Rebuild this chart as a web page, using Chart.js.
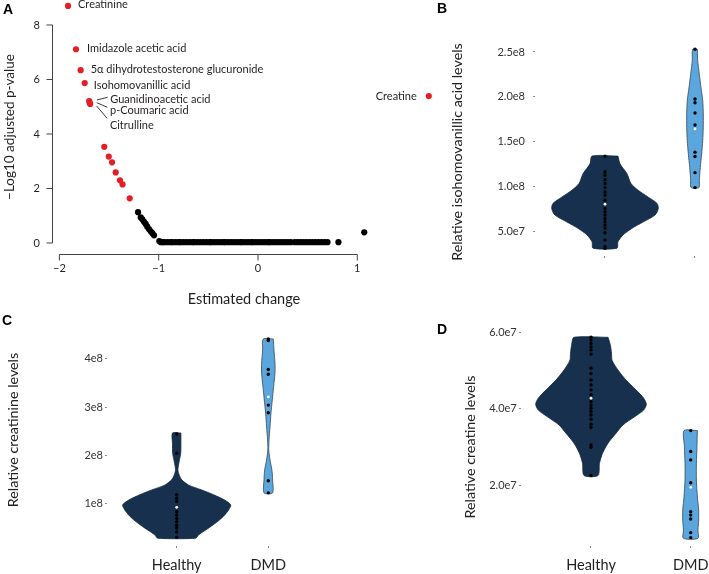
<!DOCTYPE html>
<html><head><meta charset="utf-8">
<script src="https://cdn.jsdelivr.net/npm/chart.js@4.4.0/dist/chart.umd.min.js"></script>
<style>
html,body{margin:0;padding:0;background:#fff}
body{width:709px;height:574px;overflow:hidden;position:relative;font-family:Lato,sans-serif}
canvas{position:absolute}
.lt{position:absolute;font:bold 14px "Liberation Sans",Arial,sans-serif;color:#000;line-height:14px}
</style></head><body>
<canvas id="cA" width="440" height="312" style="left:0;top:0"></canvas>
<canvas id="cB" width="269" height="300" style="left:440px;top:0"></canvas>
<canvas id="cC" width="350" height="262" style="left:0;top:312px"></canvas>
<canvas id="cD" width="269" height="262" style="left:440px;top:312px"></canvas>
<div class="lt" style="left:3px;top:2px">A</div>
<div class="lt" style="left:437px;top:1px">B</div>
<div class="lt" style="left:2px;top:313px">C</div>
<div class="lt" style="left:437px;top:322px">D</div>
<script>
// ---------- Panel A data ----------
const sigX = [-1.913,-1.833,-1.786,-1.745,-1.700,-1.695,-1.690,1.720,-1.548,-1.503,-1.470,-1.433,-1.390,-1.364,-1.292];
const sigY = [8.70,7.11,6.34,5.87,5.21,5.15,5.10,5.39,3.53,3.17,2.96,2.59,2.30,2.15,1.64];
const sigNames = ["Creatinine","Imidazole acetic acid","5\u03b1 dihydrotestosterone glucuronide","Isohomovanillic acid","Guanidinoacetic acid","p-Coumaric acid","Citrulline","Creatine"];
const nsX = [-1.208,-1.181,-1.165,-1.148,-1.131,-1.115,-1.098,-1.081,-1.064,-1.047,-0.994,
  -0.98,-0.96,-0.94,-0.91,-0.88,-0.86,-0.83,-0.80,-0.78,-0.75,-0.72,-0.69,-0.66,-0.64,-0.61,-0.58,-0.55,-0.52,-0.49,-0.47,
  -0.44,-0.41,-0.38,-0.35,-0.33,-0.30,-0.27,-0.24,-0.21,-0.18,-0.16,-0.13,-0.10,-0.07,-0.05,-0.02,0.01,0.04,0.07,0.10,
  0.12,0.15,0.18,0.21,0.24,0.27,0.30,0.33,0.37,0.40,0.43,0.46,0.49,0.52,0.55,0.58,0.61,0.64,0.67,0.70,0.81,1.07];
const nsY = [1.13,0.94,0.87,0.78,0.70,0.60,0.51,0.43,0.36,0.28,0.07,
  0.03,0.03,0.03,0.03,0.03,0.03,0.03,0.03,0.03,0.03,0.03,0.03,0.03,0.03,0.03,0.03,0.03,0.03,0.03,0.03,
  0.03,0.03,0.03,0.03,0.03,0.03,0.03,0.03,0.03,0.03,0.03,0.03,0.03,0.03,0.03,0.03,0.03,0.03,0.03,0.03,
  0.03,0.03,0.03,0.03,0.03,0.03,0.03,0.03,0.03,0.03,0.03,0.03,0.03,0.03,0.03,0.03,0.03,0.03,0.03,0.03,0.03,0.39];
const aXTicks = [-2,-1,0,1];
const aYTicks = [0,2,4,6,8];

// ---------- Panel B data (isohomovanillic acid) ----------
const bHealthyPts = [133.7e6,115.9e6,112.2e6,107.4e6,103e6,98.5e6,93.7e6,90e6,84.4e6,75.2e6,71.5e6,67.8e6,64e6,60.4e6,56.7e6,53e6,48.1e6,40e6,32.6e6,30.7e6];
const bHealthyMedian = 80e6;
const bDmdPts = [253e6,197.4e6,193.3e6,181.9e6,168.5e6,138.1e6,133.3e6,115.2e6,98.5e6];
const bDmdMedian = 164e6;
const bHealthyDensAt = [133.7e6,125e6,114e6,103e6,95.6e6,88e6,80.8e6,75e6,67.8e6,60e6,53e6,45.6e6,38e6,30.8e6];
const bHealthyDensW  = [0.144,0.167,0.244,0.289,0.367,0.478,0.578,0.592,0.556,0.422,0.300,0.200,0.144,0.133];
const bDmdDensAt = [253e6,240.7e6,225e6,210e6,195.6e6,180.7e6,166e6,151e6,136e6,121e6,106.7e6,98.5e6];
const bDmdDensW  = [0.026,0.030,0.048,0.067,0.086,0.092,0.092,0.086,0.074,0.059,0.048,0.044];
const bTickVals = [5e7,1e8,1.5e8,2e8,2.5e8];
const bTickLabels = ["5.0e7","1.0e8","1.5e0","2.0e8","2.5e8"];

// ---------- Panel C data (creatinine) ----------
const cHealthyPts = [2.44e8,2.04e8,1.18e8,1.11e8,1.04e8,0.83e8,0.76e8,0.69e8,0.62e8,0.55e8,0.49e8,0.41e8,0.30e8];
const cHealthyMedian = 0.92e8;
const cDmdPts = [4.41e8,4.38e8,3.78e8,3.68e8,3.04e8,2.88e8,1.47e8,1.22e8];
const cDmdMedian = 3.21e8;
const cHealthyDensAt = [2.46e8,2.25e8,2.04e8,1.87e8,1.70e8,1.59e8,1.49e8,1.38e8,1.28e8,1.18e8,1.07e8,0.97e8,0.87e8,0.76e8,0.66e8,0.55e8,0.45e8,0.35e8,0.28e8];
const cHealthyDensW  = [0.046,0.046,0.044,0.027,0.013,0.027,0.055,0.131,0.273,0.404,0.524,0.590,0.568,0.524,0.469,0.393,0.317,0.240,0.207];
const cDmdDensAt = [4.41e8,4.18e8,3.91e8,3.70e8,3.42e8,3.15e8,2.87e8,2.59e8,2.32e8,2.11e8,1.90e8,1.69e8,1.49e8,1.22e8];
const cDmdDensW  = [0.055,0.062,0.073,0.073,0.058,0.044,0.029,0.019,0.008,0.005,0.019,0.040,0.047,0.047];
const cTickVals = [1e8,2e8,3e8,4e8];
const cTickLabels = ["1e8","2e8","3e8","4e8"];

// ---------- Panel D data (creatine) ----------
const dHealthyPts = [58.8e6,58.1e6,57.2e6,56.3e6,55.5e6,54.4e6,50.7e6,49.3e6,47.6e6,46.3e6,45e6,43.7e6,41.9e6,41e6,40.2e6,39.3e6,38.4e6,37.3e6,36e6,35.1e6,30.5e6,29.9e6,22.5e6];
const dHealthyMedian = 42.8e6;
const dDmdPts = [34.3e6,28.8e6,26.6e6,20.6e6,13e6,12.1e6,11.1e6,7.5e6,6.2e6];
const dDmdMedian = 19.4e6;
const dHealthyDensAt = [58.8e6,56.8e6,54.6e6,52.8e6,50.2e6,47.6e6,45e6,42.8e6,41.2e6,39.7e6,38e6,35.8e6,33.6e6,31e6,28.3e6,25.7e6,22.5e6];
const dHealthyDensW  = [0.171,0.194,0.206,0.211,0.271,0.351,0.451,0.529,0.555,0.529,0.441,0.321,0.251,0.171,0.115,0.085,0.070];
const dDmdDensAt = [34.3e6,30.1e6,25.7e6,21.3e6,16.9e6,13.4e6,10.8e6,8.2e6,6.0e6];
const dDmdDensW  = [0.067,0.063,0.057,0.057,0.067,0.080,0.080,0.073,0.073];
const dTickVals = [2e7,4e7,6e7];
const dTickLabels = ["2.0e7","4.0e7","6.0e7"];

const groups = ["Healthy","DMD"];

// ---------- styling ----------
Chart.defaults.font.family = 'Lato, "Open Sans", sans-serif';
Chart.defaults.color = '#333';
const RED = '#e31e26', NAVY = '#16304d', LIGHT = '#5ba6dd';

function zeroPad(s){ s.paddingLeft = 0; s.paddingRight = 0; s.paddingTop = 0; s.paddingBottom = 0; }

// R-style axes for panel A (line spans first to last tick only)
const rAxes = {
  id: 'rAxes',
  afterDraw(chart) {
    const {ctx, scales:{x, y}, chartArea} = chart;
    ctx.save();
    ctx.strokeStyle = '#444'; ctx.lineWidth = 1;
    const ax = chartArea.left + 4.5, ay = Math.round(chartArea.bottom) + 0.5;
    ctx.beginPath();
    ctx.moveTo(ax, y.getPixelForValue(aYTicks[aYTicks.length-1]));
    ctx.lineTo(ax, y.getPixelForValue(aYTicks[0]));
    aYTicks.forEach(v => { const p = y.getPixelForValue(v); ctx.moveTo(ax, p); ctx.lineTo(ax - 6, p); });
    ctx.moveTo(x.getPixelForValue(aXTicks[0]), ay);
    ctx.lineTo(x.getPixelForValue(aXTicks[aXTicks.length-1]), ay);
    aXTicks.forEach(v => { const p = x.getPixelForValue(v); ctx.moveTo(p, ay); ctx.lineTo(p, ay + 6); });
    ctx.stroke();
    ctx.restore();
  }
};

// labels attached to significant points (offsets in px from the point)
const labelStyle = [
  {i:0, dx:10, dy:-1},
  {i:1, dx:11, dy:-1},
  {i:2, dx:10, dy:-0.6},
  {i:3, dx:9, dy:2},
  {i:4, dx:21, dy:-2, lead:[7.7,-1,18.3,-3.7]},
  {i:5, dx:20.3, dy:8.3, lead:[7,0,17.6,4.6]},
  {i:6, dx:19.7, dy:21, lead:[6.4,2,17,14.3]},
  {i:7, dx:-12, dy:0, align:'right'}
];
const pointLabels = {
  id: 'pointLabels',
  afterDatasetsDraw(chart) {
    const {ctx, scales:{x, y}} = chart;
    ctx.save();
    ctx.font = '11px Lato, "Open Sans", sans-serif';
    ctx.fillStyle = '#231f20';
    ctx.strokeStyle = '#231f20'; ctx.lineWidth = 0.9;
    ctx.textBaseline = 'middle';
    labelStyle.forEach((L, k) => {
      const px = x.getPixelForValue(sigX[L.i]), py = y.getPixelForValue(sigY[L.i]);
      ctx.textAlign = L.align || 'left';
      ctx.fillText(sigNames[k], px + L.dx, py + L.dy);
      if (L.lead) {
        ctx.beginPath();
        ctx.moveTo(px + L.lead[0], py + L.lead[1]);
        ctx.lineTo(px + L.lead[2], py + L.lead[3]);
        ctx.stroke();
      }
    });
    ctx.restore();
  }
};

new Chart(document.getElementById('cA'), {
  type: 'scatter',
  data: { datasets: [
    { data: nsX.map((v,i)=>({x:v, y:nsY[i]})), backgroundColor:'#000', borderWidth:0, pointRadius:3.1, clip:false },
    { data: sigX.map((v,i)=>({x:v, y:sigY[i]})), backgroundColor:RED, borderWidth:0, pointRadius:3.1, clip:false }
  ]},
  options: {
    responsive:false, animation:false, events:[],
    layout:{ autoPadding:false, padding:0 },
    plugins:{ legend:{display:false}, tooltip:{enabled:false} },
    scales:{
      x:{ type:'linear', min:-2.1148, max:1.8328,
        afterBuildTicks: s => { s.ticks = aXTicks.map(v=>({value:v})); },
        afterFit: s => { s.height = 58; zeroPad(s); },
        grid:{display:false, drawTicks:false}, border:{display:false},
        ticks:{ font:{size:11}, color:'#231f20', padding:8, callback: v => (v<0 ? '\u2212'+Math.abs(v) : String(v)) },
        title:{ display:true, text:'Estimated change', font:{size:14.5}, color:'#231f20', padding:{top:0,bottom:3.6} }
      },
      y:{ type:'linear', min:-0.404, max:8.917,
        afterBuildTicks: s => { s.ticks = aYTicks.map(v=>({value:v})); },
        afterFit: s => { s.width = 48; zeroPad(s); },
        grid:{display:false, drawTicks:false}, border:{display:false},
        ticks:{ font:{size:11}, color:'#231f20', padding:8 },
        title:{ display:true, text:'\u2212Log10 adjusted p-value', font:{size:13.5}, color:'#231f20', padding:{top:2,bottom:0} }
      }
    }
  },
  plugins:[rAxes, pointLabels]
});

// ---------- violin panels ----------
function violinOutline(cat, at, w) {
  const pts = [];
  for (let i = 0; i < at.length; i++) pts.push({x: cat + w[i], y: at[i]});
  for (let i = at.length - 1; i >= 0; i--) pts.push({x: cat - w[i], y: at[i]});
  pts.push(pts[0]);
  return pts;
}
const yTitlePlugin = {
  id: 'yTitle',
  afterDraw(chart, args, opts) {
    const ctx = chart.ctx;
    ctx.save();
    ctx.translate(opts.x, opts.y);
    ctx.rotate(-Math.PI/2);
    ctx.font = '14.3px Lato, "Open Sans", sans-serif';
    ctx.fillStyle = '#222';
    ctx.textAlign = 'center'; ctx.textBaseline = 'middle';
    ctx.fillText(opts.text, 0, 0);
    ctx.restore();
  }
};
function violinChart(id, o) {
  new Chart(document.getElementById(id), {
    type: 'scatter',
    data: { datasets: [
      { data: violinOutline(1, o.hAt, o.hW), showLine:true, fill:'shape', tension:0.25, pointRadius:0, order:3,
        backgroundColor:NAVY, borderColor:'#13283f', borderWidth:0.8 },
      { data: violinOutline(2, o.dAt, o.dW), showLine:true, fill:'shape', tension:0.25, pointRadius:0, order:3,
        backgroundColor:LIGHT, borderColor:'#34485c', borderWidth:0.8 },
      { data: o.hPts.map(v=>({x:1, y:v})), pointRadius:1.7, backgroundColor:'#000', borderWidth:0, order:2 },
      { data: o.dPts.map(v=>({x:2, y:v})), pointRadius:1.7, backgroundColor:'#000', borderWidth:0, order:2 },
      { data: [{x:1, y:o.hMed},{x:2, y:o.dMed}], pointRadius:1.4, backgroundColor:'#fff', borderWidth:0, order:1 }
    ]},
    options: {
      responsive:false, animation:false, events:[],
      layout:{ autoPadding:false, padding:{ left:0, top:o.padTop, right:0, bottom:0 } },
      plugins:{ legend:{display:false}, tooltip:{enabled:false}, yTitle:o.title },
      scales:{
        x:{ type:'linear', min:o.xMin, max:o.xMax,
          afterBuildTicks: s => { s.ticks = [{value:1},{value:2}]; },
          afterFit: s => { s.height = o.xH; zeroPad(s); },
          grid:{ display:true, drawOnChartArea:false, drawTicks:true, tickLength:2, color:'#888' },
          border:{display:false},
          ticks:{ font:{size:14.5}, color:'#222', padding:o.xPad, callback:(v,i)=> o.showCats ? groups[i] : '' }
        },
        y:{ type:'linear', min:o.yMin, max:o.yMax,
          afterBuildTicks: s => { s.ticks = o.tickVals.map(v=>({value:v})); },
          afterFit: s => { s.width = o.yW; zeroPad(s); },
          grid:{ display:true, drawOnChartArea:false, drawTicks:true, tickLength:2, color:'#888' },
          border:{display:false},
          ticks:{ font:{size:11}, color:'#333', padding:o.yPad, callback:(v,i)=> o.tickLabels[i] }
        }
      }
    },
    plugins:[yTitlePlugin]
  });
}

violinChart('cB', { hAt:bHealthyDensAt, hW:bHealthyDensW, dAt:bDmdDensAt, dW:bDmdDensW,
  hPts:bHealthyPts, dPts:bDmdPts, hMed:bHealthyMedian, dMed:bDmdMedian,
  tickVals:bTickVals, tickLabels:bTickLabels, showCats:false,
  xMin:0.2222, xMax:2.1556, yMin:22.07e6, yMax:263.4e6,
  padTop:40, xH:44, yW:95, yPad:8, xPad:6,
  title:{ text:'Relative isohomovanillic acid levels', x:17, y:152 } });

violinChart('cC', { hAt:cHealthyDensAt, hW:cHealthyDensW, dAt:cDmdDensAt, dW:cDmdDensW,
  hPts:cHealthyPts, dPts:cDmdPts, hMed:cHealthyMedian, dMed:cDmdMedian,
  tickVals:cTickVals, tickLabels:cTickLabels, showCats:true,
  xMin:0.2391, xMax:2.892, yMin:0.118e8, yMax:4.597e8,
  padTop:18, xH:28, yW:107, yPad:2, xPad:9,
  title:{ text:'Relative creatinine levels', x:13, y:118 } });

violinChart('cD', { hAt:dHealthyDensAt, hW:dHealthyDensW, dAt:dDmdDensAt, dW:dDmdDensW,
  hPts:dHealthyPts, dPts:dDmdPts, hMed:dHealthyMedian, dMed:dDmdMedian,
  tickVals:dTickVals, tickLabels:dTickLabels, showCats:true,
  xMin:0.2979, xMax:2.1836, yMin:3.99e6, yMax:63.35e6,
  padTop:8, xH:28, yW:81, yPad:2.3, xPad:9,
  title:{ text:'Relative creatine levels', x:30, y:135 } });
</script>
</body></html>
